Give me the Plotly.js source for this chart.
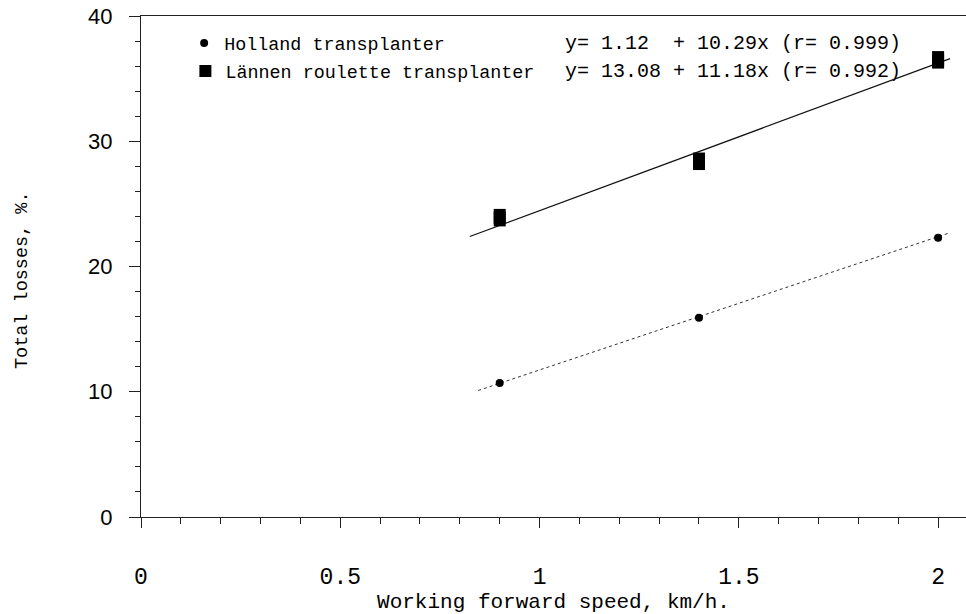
<!DOCTYPE html>
<html>
<head>
<meta charset="utf-8">
<script src="https://cdn.plot.ly/plotly-3.0.1.min.js"></script>
<style>html,body{margin:0;padding:0;background:#fff;}#chart{width:966px;height:614px;}</style>
</head>
<body>
<div id="chart"></div>
<script>
// ---- data ----
const seriesNames = ["Holland transplanter", "Lännen roulette transplanter"];
const speed = [0.9, 1.4, 2.0];
const hollandLoss = [10.7, 15.9, 22.3];
const lannenLoss = [23.9, 28.4, 36.5];
// printed regression equations
const intercepts = ["1.12", "13.08"];
const slopes = ["10.29", "11.18"];
const rValues = ["0.999", "0.992"];
// drawn fit line endpoints
const hollandFitX = [0.846, 2.03];
const hollandFitY = [10.1, 22.7];
const lannenFitX = [0.825, 2.03];
const lannenFitY = [22.4, 36.6];
const xTickVals = [0, 0.5, 1, 1.5, 2];
const xTickText = ["0", "0.5", "1", "1.5", "2"];
const yTickVals = [0, 10, 20, 30, 40];
const xTitle = "Working forward speed, km/h.";
const yTitle = "Total losses, %.";

const NB = "\u00A0";
function eqText(i) {
  let ic = intercepts[i];
  while (ic.length < 5) ic += NB;
  return "y=" + NB + ic + NB + "+" + NB + slopes[i] + "x" + NB + "(r=" + NB + rValues[i] + ")";
}

const mono = "Liberation Mono, DejaVu Sans Mono, monospace";

const traces = [
  {x: hollandFitX, y: hollandFitY, mode: "lines", showlegend: false, hoverinfo: "skip",
   line: {color: "#333", width: 1, dash: "dot"}},
  {x: lannenFitX, y: lannenFitY, mode: "lines", showlegend: false, hoverinfo: "skip",
   line: {color: "#111", width: 1.2}},
  {x: speed, y: hollandLoss, mode: "markers", name: seriesNames[0], legend: "legend",
   marker: {symbol: "circle", size: 8, color: "#000"}},
  {x: speed, y: lannenLoss, mode: "markers", name: seriesNames[1], legend: "legend2",
   marker: {symbol: "square", size: 12, color: "#000"}},
  {x: speed, y: lannenLoss, mode: "markers", showlegend: false, hoverinfo: "skip",
   marker: {symbol: "line-ns", size: 12.5, color: "#000", line: {width: 12, color: "#000"}}}
];

const legendCommon = {
  xref: "paper", yref: "paper", xanchor: "left", yanchor: "middle",
  bgcolor: "rgba(0,0,0,0)", borderwidth: 0,
  font: {family: mono, size: 18.4, color: "#000"}
};

const layout = {
  width: 966, height: 614,
  margin: {l: 141, r: 0, t: 16, b: 97},
  paper_bgcolor: "#fff", plot_bgcolor: "#fff",
  showlegend: true,
  legend: Object.assign({}, legendCommon, {x: 0.0523, y: 0.946}),
  legend2: Object.assign({}, legendCommon, {x: 0.0538, y: 0.890}),
  xaxis: {
    range: [0, 2.07], showgrid: false, zeroline: false,
    showline: true, linecolor: "#222", linewidth: 1.2, mirror: true,
    ticks: "outside", ticklen: 10, tickwidth: 1, tickcolor: "#222",
    tickvals: xTickVals, ticktext: xTickText,
    ticklabelstandoff: 28,
    tickfont: {family: mono, size: 23, color: "#000"},
    minor: {dtick: 0.1, ticks: "outside", ticklen: 6, tickcolor: "#222", tickwidth: 1, showgrid: false},
    title: {text: xTitle, font: {family: mono, size: 21, color: "#000"}, standoff: 14}
  },
  yaxis: {
    range: [0, 40], showgrid: false, zeroline: false,
    showline: true, linecolor: "#222", linewidth: 1.2, mirror: false,
    ticks: "outside", ticklen: 11, tickwidth: 1, tickcolor: "#222",
    tickvals: yTickVals,
    ticklabelstandoff: 12,
    tickfont: {family: "Liberation Sans, Arial, sans-serif", size: 22, color: "#000"},
    minor: {dtick: 2, ticks: "outside", ticklen: 5, tickcolor: "#222", tickwidth: 1, showgrid: false}
  },
  annotations: [0, 1].map(i => ({
    xref: "paper", yref: "paper", x: 0.5115, y: i === 0 ? 0.946 : 0.890,
    xanchor: "left", yanchor: "middle", showarrow: false,
    text: eqText(i), font: {family: mono, size: 20, color: "#000"}
  })).concat([{
    xref: "paper", yref: "paper", x: -0.1442, y: 0.473,
    xanchor: "center", yanchor: "middle", showarrow: false, textangle: -90,
    text: yTitle, font: {family: mono, size: 18.5, color: "#000"}
  }])
};

Plotly.newPlot("chart", traces, layout, {displayModeBar: false, staticPlot: true});
</script>
</body>
</html>
